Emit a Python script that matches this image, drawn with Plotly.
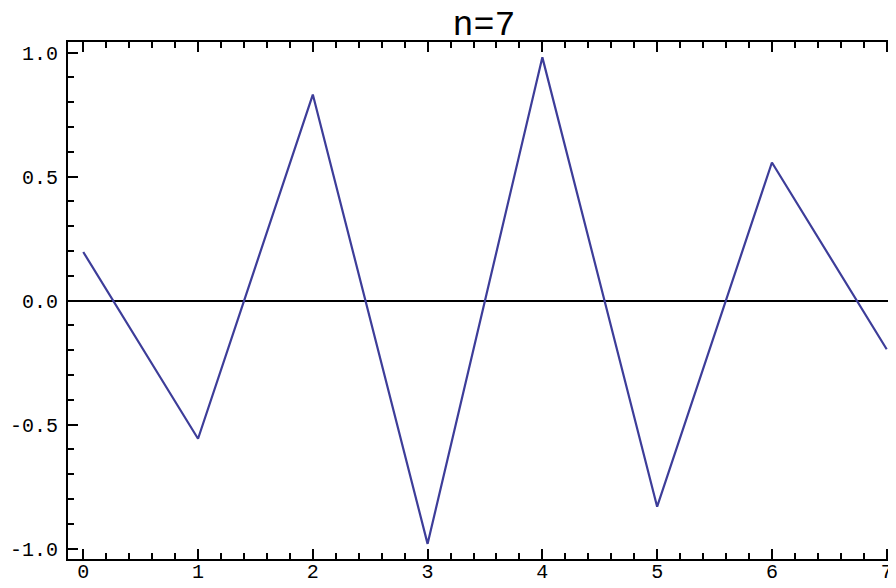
import plotly.graph_objects as go

x_vals = [0, 1, 2, 3, 4, 5, 6, 7]
y_vals = [0.196, -0.557, 0.831, -0.981, 0.981, -0.831, 0.557, -0.196]

x_tick_vals = [0, 1, 2, 3, 4, 5, 6, 7]
x_tick_text = ["0", "1", "2", "3", "4", "5", "6", "7"]
y_tick_vals = [-1.0, -0.5, 0.0, 0.5, 1.0]
y_tick_text = ["-1.0", "-0.5", "0.0", "0.5", "1.0"]

title_text = "n=7"

LINE = "#3d3d99"
FONT = "Liberation Mono"

# the page body keeps its default 8px margin, so the figure is sized to fit
W, H = 888, 580

fig = go.Figure()
fig.add_trace(go.Scatter(x=x_vals, y=y_vals, mode="lines",
                         line=dict(color=LINE, width=2.2), hoverinfo="skip"))

fig.update_layout(
    width=W, height=H, autosize=False,
    margin=dict(l=60, r=0, t=34, b=29, pad=0),
    paper_bgcolor="white", plot_bgcolor="white",
    showlegend=False,
    title=dict(text=title_text, x=476/W, xanchor="center", xref="container",
               y=1 - 14.5/H, yanchor="middle", yref="container", automargin=False,
               font=dict(family=FONT, size=35, color="black")),
    font=dict(family=FONT, color="black"),
)

fig.update_xaxes(
    range=[-0.133, 7.081], showgrid=False, zeroline=False, automargin=False,
    showline=True, linecolor="black", linewidth=2, mirror="ticks",
    ticks="inside", ticklen=10, tickwidth=2, tickcolor="black",
    tickvals=x_tick_vals, ticktext=x_tick_text, ticklabelstandoff=-7,
    tickfont=dict(family=FONT, size=20, color="black"),
    minor=dict(dtick=0.2, tick0=0, ticks="inside", ticklen=6, tickwidth=2, tickcolor="black"),
)
fig.update_yaxes(
    range=[-1.042, 1.043], showgrid=False, automargin=False,
    zeroline=True, zerolinecolor="black", zerolinewidth=2,
    showline=True, linecolor="black", linewidth=2, mirror=False,
    ticks="inside", ticklen=10, tickwidth=2, tickcolor="black",
    tickvals=y_tick_vals, ticktext=y_tick_text, ticklabelstandoff=4,
    tickfont=dict(family=FONT, size=20, color="black"),
    minor=dict(dtick=0.1, tick0=0, ticks="inside", ticklen=6, tickwidth=2, tickcolor="black"),
)

fig.write_html("out.html")
